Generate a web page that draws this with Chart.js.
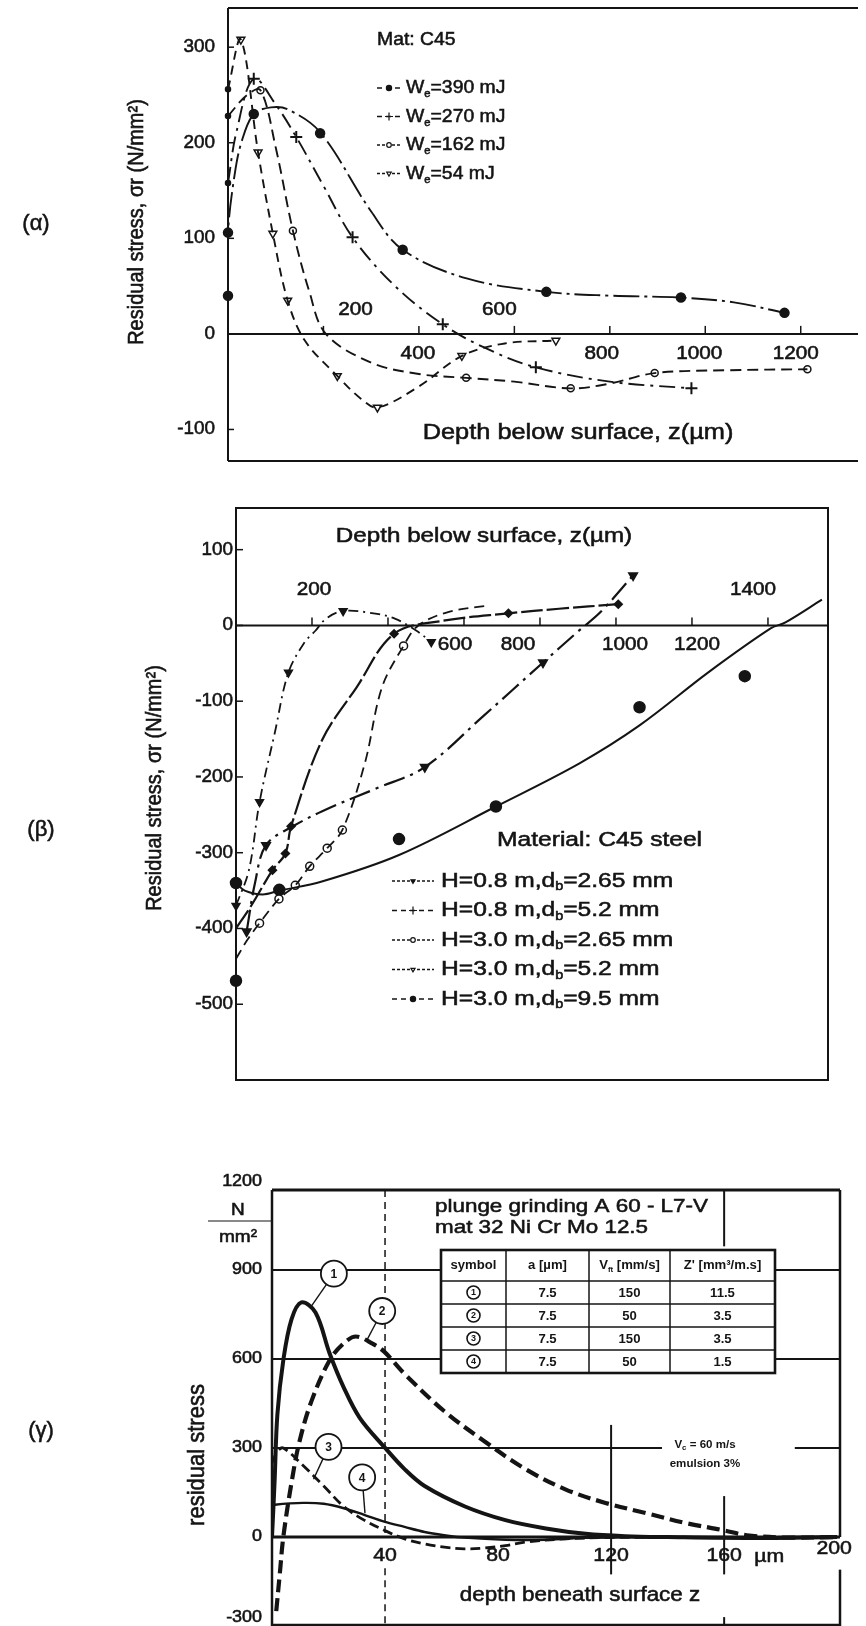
<!DOCTYPE html>
<html>
<head>
<meta charset="utf-8">
<title>Residual stress profiles</title>
<script src="https://cdn.jsdelivr.net/npm/chart.js@4.4.1/dist/chart.umd.min.js"></script>
<style>
  body { margin: 0; background: #fff; }
  #page { position: relative; width: 866px; height: 1626px; overflow: hidden; background: #fff; }
  canvas { position: absolute; left: 0; }
</style>
</head>
<body>
<div id="page">
  <canvas id="chartA" width="866" height="476" style="top:0px"></canvas>
  <canvas id="chartB" width="866" height="610" style="top:478px"></canvas>
  <canvas id="chartC" width="866" height="486" style="top:1140px"></canvas>
</div>
<script>
const ink = '#141414';
const FONT = '"Liberation Sans", Arial, Helvetica, sans-serif';
const SX = 1.12; // lettering in the scanned figure is a bit wide

/*************(α) Mat C45, impact energy We*************/
const aEnergy = ['390', '270', '162', '54'];
const aTicksZ = [200, 400, 600, 800, 1000, 1200];
const aTicksS = [300, 200, 100, 0, -100];
const aLabelsBelow = [400, 800, 1000, 1200];
const aLabelsAbove = [200, 600];

const aZ390 = [0, 0, 14, 29, 54, 90, 125, 193, 300, 366, 500, 667, 800, 949, 1060, 1166];
const aS390 = [40, 106, 167, 202, 230, 237, 235, 211, 128, 88, 58, 44, 40, 38, 33, 22];
const aZ390m = [0, 0, 54, 193, 366, 667, 949, 1166];
const aS390m = [40, 106, 230, 210, 88, 44, 38, 22];

const aZ270 = [0, 18, 54, 100, 143, 200, 261, 350, 450, 540, 645, 800, 971];
const aS270 = [158, 212, 267, 240, 206, 155, 101, 50, 10, -15, -35, -50, -57];
const aZ270m = [54, 143, 261, 450, 645, 971];
const aS270m = [267, 206, 101, 10, -35, -57];

const aZ162 = [0, 40, 68, 100, 136, 170, 205, 300, 400, 499, 600, 718, 800, 894, 1050, 1214];
const aS162 = [228, 250, 255, 195, 108, 45, 0, -30, -42, -46, -50, -57, -52, -41, -38, -37];
const aZ162m = [68, 136, 499, 718, 894, 1214];
const aS162m = [255, 108, -46, -57, -41, -37];

const aZ54 = [0, 27, 63, 94, 125, 161, 229, 279, 313, 400, 490, 580, 687];
const aS54 = [256, 308, 190, 105, 35, -7, -44, -68, -77, -55, -23, -10, -7];
const aZ54m = [27, 63, 94, 125, 229, 313, 490, 687];
const aS54m = [308, 190, 105, 35, -44, -77, -23, -7];

const aZsurf = [0, 0, 0];
const aSsurf = [158, 228, 256];

/*************(β) C45 steel, drop height H and ball diameter db*************/
const bHeight = ['0.8', '0.8', '3.0', '3.0', '3.0'];
const bBall = ['2.65', '5.2', '2.65', '5.2', '9.5'];
const bTicksZ = [200, 400, 600, 800, 1000, 1200, 1400];
const bTicksS = [100, 0, -100, -200, -300, -400, -500];
const bLabelsBelow = [600, 800, 1000, 1200];
const bLabelsAbove = [200, 1400];

const bZ1 = [0, 34, 62, 102, 138, 181, 209, 237, 282, 362, 418, 475, 514];
const bS1 = [-370, -323, -233, -142, -62, -22, -7, 9, 19, 16, 9, -7, -22];
const bZ1m = [0, 62, 138, 282, 514];
const bS1m = [-370, -233, -62, 19, -22];

const bZ2 = [0, 40, 96, 130, 145, 226, 317, 416, 543, 717, 850, 1006];
const bS2 = [-400, -370, -323, -301, -265, -152, -82, -11, 6, 16, 22, 28];
const bZ2m = [96, 130, 145, 416, 717, 1006];
const bS2m = [-323, -301, -265, -11, 16, 28];

const bZ3 = [0, 30, 62, 113, 156, 194, 240, 280, 339, 384, 441, 480, 560, 660];
const bS3 = [-440, -415, -393, -361, -343, -318, -294, -270, -182, -82, -27, 0, 18, 26];
const bZ3m = [62, 113, 156, 194, 240, 280, 441];
const bS3m = [-393, -361, -343, -318, -294, -270, -27];

const bZ4 = [28, 50, 79, 150, 250, 370, 497, 650, 808, 900, 960, 1045];
const bS4 = [-404, -340, -290, -265, -240, -215, -187, -120, -49, -8, 18, 66];
const bZ4m = [28, 79, 497, 808, 1045];
const bS4m = [-404, -290, -187, -49, 66];

const bZ5 = [0, 23, 70, 114, 226, 429, 684, 904, 1062, 1243, 1407, 1446, 1542];
const bS5 = [-340, -350, -355, -350, -338, -303, -239, -182, -132, -62, -4, 4, 34];
const bZ5m = [0, 0, 114, 429, 684, 1062, 1339];
const bS5m = [-340, -469, -349, -282, -239, -108, -67];

/*************(γ) plunge grinding, 32 Ni Cr Mo 12.5*************/
const cTicksS = [1200, 900, 600, 300, 0, -300];
const cTicksZ = [40, 80, 120, 160];
const cSymbol = ['1', '2', '3', '4'];
const cDepth = ['7.5', '7.5', '7.5', '7.5'];
const cFeed = ['150', '50', '150', '50'];
const cRemoval = ['11.5', '3.5', '3.5', '1.5'];

const cZ1 = [0, 0.9, 1.9, 4, 6.9, 10.4, 15.4, 20.4, 25.4, 31.1, 39.7, 46.9, 54, 68.3, 82.6, 96.9, 111, 125, 140, 170, 200];
const cS1 = [0, 183, 413, 596, 734, 791, 757, 619, 504, 401, 304, 229, 172, 103, 57, 29, 11, 3, 0, -3, 0];

const cZ2 = [1.5, 2.8, 4, 6.9, 9.7, 14, 20.4, 25.4, 29.7, 35.4, 39.7, 46.9, 61, 75.4, 89.7, 104, 118, 132.6, 146.9, 159.7, 168, 182.6, 200];
const cS2 = [-250, -120, 0, 183, 321, 459, 596, 653, 676, 653, 625, 550, 424, 321, 229, 160, 115, 80, 46, 23, 6, -2, 0];

const cZ3 = [0, 2, 4, 11, 18.3, 25.4, 32.6, 39.7, 46.9, 54, 61, 68, 75.4, 82.6, 89.7, 104, 118, 140];
const cS3 = [250, 290, 300, 241, 172, 103, 57, 23, -6, -23, -34, -40, -37, -29, -17, -6, -2, 0];

const cZ4 = [0, 1, 11, 18.3, 25.4, 32.6, 39.7, 46.9, 54, 61, 68, 82.6, 96.9, 111, 125];
const cS4 = [105, 109, 115, 112, 97, 75, 52, 34, 17, 6, -2, -9, -9, -3, 0];

/*************helpers*************/
function seg(ctx, x1, y1, x2, y2) {
    ctx.beginPath();
    ctx.moveTo(x1, y1);
    ctx.lineTo(x2, y2);
    ctx.stroke();
}

function setFont(ctx, size, bold) {
    ctx.font = (bold ? 'bold ' : '') + size + 'px ' + FONT;
}

// scanned print looks heavier than a clean regular face, so regular text gets a hairline stroke
function label(ctx, s, x, y, size, align, bold, sx) {
    ctx.save();
    setFont(ctx, size, bold);
    ctx.fillStyle = ink;
    ctx.strokeStyle = ink;
    ctx.lineWidth = 0.55;
    ctx.textAlign = align || 'left';
    ctx.textBaseline = 'middle';
    ctx.translate(x, y);
    ctx.scale(sx || SX, 1);
    ctx.fillText(s, 0, 0);
    if (!bold) ctx.strokeText(s, 0, 0);
    ctx.restore();
}

function textWidth(ctx, s, size, bold, sx) {
    ctx.save();
    setFont(ctx, size, bold);
    const w = ctx.measureText(s).width;
    ctx.restore();
    return w * (sx || SX);
}

// pieces: [text, size, yShift]
function runs(ctx, pieces, x, y, bold, sx) {
    let cx = x;
    pieces.forEach(function (p) {
        label(ctx, p[0], cx, y + (p[2] || 0), p[1], 'left', bold, sx);
        cx += textWidth(ctx, p[0], p[1], bold, sx);
    });
    return cx;
}

function runsWidth(ctx, pieces, bold, sx) {
    return pieces.reduce(function (w, p) { return w + textWidth(ctx, p[0], p[1], bold, sx); }, 0);
}

function vlabel(ctx, s, x, y, size) {
    ctx.save();
    setFont(ctx, size);
    ctx.fillStyle = ink;
    ctx.strokeStyle = ink;
    ctx.lineWidth = 0.55;
    ctx.textAlign = 'center';
    ctx.textBaseline = 'middle';
    ctx.translate(x, y);
    ctx.rotate(-Math.PI / 2);
    ctx.scale(1, SX);
    ctx.fillText(s, 0, 0);
    ctx.strokeText(s, 0, 0);
    ctx.restore();
}

function sample(ctx, x, y, w, dash, style, r, filled, rot) {
    ctx.save();
    ctx.strokeStyle = ink;
    ctx.lineWidth = 1.6;
    ctx.setLineDash(dash);
    seg(ctx, x, y, x + w, y);
    ctx.setLineDash([]);
    ctx.fillStyle = filled ? ink : '#fff';
    ctx.lineWidth = 1.2;
    Chart.helpers.drawPoint(ctx, { pointStyle: style, radius: r, rotation: rot || 0, borderWidth: 1.2 }, x + w / 2, y);
    ctx.restore();
}

function pts(xs, ys) {
    return xs.map(function (x, i) { return { x: x, y: ys[i] }; });
}

function curve(xs, ys, dash, width) {
    return {
        data: pts(xs, ys), showLine: true, pointRadius: 0,
        borderColor: ink, borderWidth: width || 1.9, borderDash: dash || [],
        tension: 0.35, fill: false
    };
}

function marks(xs, ys, style, radius, filled, rotation, bw) {
    return {
        data: pts(xs, ys), showLine: false, pointStyle: style, pointRadius: radius,
        pointRotation: rotation || 0, pointBackgroundColor: filled ? ink : '#fff',
        pointBorderColor: ink, pointBorderWidth: bw || 1.5, clip: false
    };
}

function baseOptions(pad, xr, yr) {
    return {
        responsive: false, animation: false, events: [],
        layout: { padding: pad },
        plugins: { legend: { display: false }, tooltip: { enabled: false } },
        scales: {
            x: { type: 'linear', display: false, min: xr[0], max: xr[1] },
            y: { type: 'linear', display: false, min: yr[0], max: yr[1] }
        }
    };
}

/*************(α)*************/
const aLegend = [
    { dash: [5, 4], style: 'circle', r: 2.6, filled: true },
    { dash: [5, 4], style: 'cross', r: 4, filled: false },
    { dash: [3, 2], style: 'circle', r: 2.3, filled: false },
    { dash: [3, 2], style: 'triangle', r: 2.6, filled: false, rot: 180 }
];

const alphaDeco = {
    id: 'alphaDeco',
    beforeDatasetsDraw(chart) {
        const ctx = chart.ctx, A = chart.chartArea, x = chart.scales.x, y = chart.scales.y;
        ctx.save();
        ctx.strokeStyle = ink;
        ctx.lineWidth = 2;
        seg(ctx, A.left, A.top, A.right, A.top);
        seg(ctx, A.left, A.top, A.left, A.bottom);
        seg(ctx, A.left, A.bottom, A.right, A.bottom);
        const y0 = y.getPixelForValue(0);
        seg(ctx, A.left, y0, A.right, y0);
        ctx.lineWidth = 1.5;
        aTicksZ.forEach(function (v) { const px = x.getPixelForValue(v); seg(ctx, px, y0, px, y0 - 8); });
        aTicksS.forEach(function (v) { const py = y.getPixelForValue(v); seg(ctx, A.left, py, A.left + 6, py); });
        ctx.restore();
    },
    afterDatasetsDraw(chart) {
        const ctx = chart.ctx, A = chart.chartArea, x = chart.scales.x, y = chart.scales.y;
        const y0 = y.getPixelForValue(0);
        aTicksS.forEach(function (v) { label(ctx, String(v), A.left - 13, y.getPixelForValue(v), 18, 'right', false, 1.05); });
        const below = [-1, -8, -6, -5], above = [32, -15];
        aLabelsBelow.forEach(function (v, i) { label(ctx, String(v), x.getPixelForValue(v) + below[i], y0 + 20, 18.5, 'center'); });
        aLabelsAbove.forEach(function (v, i) { label(ctx, String(v), x.getPixelForValue(v) + above[i], y0 - 24, 18.5, 'center'); });

        label(ctx, 'Depth below surface, z(\u00b5m)', 578, 433, 21.5, 'center', false, 1.18);
        vlabel(ctx, 'Residual stress, \u03c3r (N/mm\u00b2)', 137, 222, 20);
        label(ctx, '(\u03b1)', 36, 224, 22, 'center', false, 1);

        label(ctx, 'Mat: C45', 377, 40, 19, 'left', false, 1.02);
        aEnergy.forEach(function (e, i) {
            const yy = 88 + i * 28.5, st = aLegend[i];
            sample(ctx, 377, yy, 24, st.dash, st.style, st.r, st.filled, st.rot);
            runs(ctx, [['W', 19], ['e', 11, 6], ['=' + e + ' mJ', 19]], 406, yy, false, 1.02);
        });
    }
};

new Chart(document.getElementById('chartA'), {
    type: 'scatter',
    data: {
        datasets: [
            curve(aZ390, aS390, [26, 5, 3, 5]),
            curve(aZ270, aS270, [16, 6, 3, 6]),
            curve(aZ162, aS162, [11, 6]),
            curve(aZ54, aS54, [9, 6]),
            marks(aZ390m, aS390m, 'circle', 4.5, true),
            marks(aZ270m, aS270m, 'cross', 6, false, 0, 2),
            marks(aZ162m, aS162m, 'circle', 3.5, false),
            marks(aZ54m, aS54m, 'triangle', 4.5, false, 180),
            marks(aZsurf, aSsurf, 'circle', 2.5, true)
        ]
    },
    options: baseOptions({ left: 228, top: 8, right: 0, bottom: 15 }, [0, 1320], [-133, 341]),
    plugins: [alphaDeco]
});

/*************(β)*************/
const bLegend = [
    { dash: [3, 2], style: 'triangle', r: 2.4, filled: true, rot: 180 },
    { dash: [5, 4], style: 'cross', r: 4, filled: false },
    { dash: [3, 2], style: 'circle', r: 2.3, filled: false },
    { dash: [3, 2], style: 'triangle', r: 2.4, filled: false, rot: 180 },
    { dash: [5, 4], style: 'circle', r: 2.6, filled: true }
];

const betaDeco = {
    id: 'betaDeco',
    beforeDatasetsDraw(chart) {
        const ctx = chart.ctx, A = chart.chartArea, x = chart.scales.x, y = chart.scales.y;
        ctx.save();
        ctx.strokeStyle = ink;
        ctx.lineWidth = 2;
        ctx.strokeRect(A.left, A.top, A.right - A.left, A.bottom - A.top);
        const y0 = y.getPixelForValue(0);
        seg(ctx, A.left, y0, A.right, y0);
        ctx.lineWidth = 1.5;
        bTicksZ.forEach(function (v) { const px = x.getPixelForValue(v); seg(ctx, px, y0, px, y0 - 8); });
        bTicksS.forEach(function (v) { const py = y.getPixelForValue(v); seg(ctx, A.left, py, A.left + 7, py); });
        ctx.restore();
    },
    afterDatasetsDraw(chart) {
        const ctx = chart.ctx, A = chart.chartArea, x = chart.scales.x, y = chart.scales.y;
        const y0 = y.getPixelForValue(0);
        bTicksS.forEach(function (v) { label(ctx, String(v), A.left - 3, y.getPixelForValue(v), 18, 'right', false, 1.05); });
        const below = [-9, -22, 9, 5], above = [2, -15];
        bLabelsBelow.forEach(function (v, i) { label(ctx, String(v), x.getPixelForValue(v) + below[i], y0 + 19, 18.5, 'center'); });
        bLabelsAbove.forEach(function (v, i) { label(ctx, String(v), x.getPixelForValue(v) + above[i], y0 - 36, 18.5, 'center'); });

        label(ctx, 'Depth below surface, z(\u00b5m)', 484, 58, 20.5, 'center', false, 1.18);
        vlabel(ctx, 'Residual stress, \u03c3r (N/mm\u00b2)', 155, 310, 20);
        label(ctx, '(\u03b2)', 41, 352, 22, 'center', false, 1);

        label(ctx, 'Material: C45 steel', 497, 362, 20.5, 'left', false, 1.2);
        bHeight.forEach(function (h, i) {
            const yy = 403 + i * 29.5, st = bLegend[i];
            sample(ctx, 392, yy, 42, st.dash, st.style, st.r, st.filled, st.rot);
            runs(ctx, [['H=' + h + ' m,d', 20.5], ['b', 12, 6], ['=' + bBall[i] + ' mm', 20.5]], 441, yy, false, 1.2);
        });
    }
};

new Chart(document.getElementById('chartB'), {
    type: 'scatter',
    data: {
        datasets: [
            curve(bZ1, bS1, [10, 5, 2, 5], 1.8),
            curve(bZ2, bS2, [22, 4], 2.2),
            curve(bZ3, bS3, [10, 6], 1.8),
            curve(bZ4, bS4, [22, 6, 3, 6], 2.2),
            curve(bZ5, bS5, [], 2),
            marks(bZ1m, bS1m, 'triangle', 4.5, true, 180),
            marks(bZ2m, bS2m, 'rectRot', 4, true),
            marks(bZ3m, bS3m, 'circle', 4, false),
            marks(bZ4m, bS4m, 'triangle', 5, true, 180),
            marks(bZ5m, bS5m, 'circle', 5.5, true)
        ]
    },
    options: baseOptions({ left: 236, top: 30, right: 38, bottom: 8 }, [0, 1558], [-600, 155]),
    plugins: [betaDeco]
});

/*************(γ)*************/
const gammaDeco = {
    id: 'gammaDeco',
    beforeDatasetsDraw(chart) {
        const ctx = chart.ctx, A = chart.chartArea, x = chart.scales.x, y = chart.scales.y;
        const px = function (v) { return x.getPixelForValue(v); };
        const py = function (v) { return y.getPixelForValue(v); };
        ctx.save();
        ctx.strokeStyle = ink;
        // grid
        ctx.lineWidth = 2;
        seg(ctx, A.left, py(900), A.right, py(900));
        seg(ctx, A.left, py(600), A.right, py(600));
        seg(ctx, A.left, py(300), px(138), py(300));
        seg(ctx, px(185), py(300), A.right, py(300));
        seg(ctx, px(160), A.top, px(160), py(980));
        seg(ctx, px(160), py(138), px(160), py(-126));
        seg(ctx, px(160), py(-270), px(160), A.bottom);
        seg(ctx, px(120), py(378), px(120), py(-126));
        ctx.lineWidth = 1.5;
        ctx.setLineDash([7, 5]);
        seg(ctx, px(40), A.top, px(40), py(0));
        seg(ctx, px(40), py(-105), px(40), A.bottom);
        ctx.setLineDash([]);
        // frame and zero line
        ctx.lineWidth = 3;
        seg(ctx, A.left, py(0), A.right, py(0));
        seg(ctx, A.left, A.top, A.right, A.top);
        ctx.lineWidth = 2.5;
        seg(ctx, A.left, A.top, A.left, A.bottom);
        seg(ctx, A.right, A.top, A.right, py(0));
        seg(ctx, A.right, py(-110), A.right, A.bottom);
        seg(ctx, A.left, A.bottom - 1, A.right, A.bottom - 1);
        ctx.restore();
    },
    afterDatasetsDraw(chart) {
        const ctx = chart.ctx, A = chart.chartArea, x = chart.scales.x, y = chart.scales.y;
        const px = function (v) { return x.getPixelForValue(v); };
        const py = function (v) { return y.getPixelForValue(v); };

        // axis labels
        cTicksS.forEach(function (v) {
            const yy = Math.min(py(v), A.bottom - 8);
            label(ctx, String(v), 262, yy, 16, 'right');
        });
        label(ctx, 'N', 238, 70, 17, 'center');
        ctx.save();
        ctx.strokeStyle = ink;
        ctx.lineWidth = 1.2;
        seg(ctx, 208, 81, A.left, 81);
        ctx.restore();
        label(ctx, 'mm\u00b2', 238, 97, 17, 'center');
        cTicksZ.forEach(function (v) { label(ctx, String(v), px(v), 416, 19, 'center'); });
        label(ctx, '\u00b5m', px(176), 417, 19, 'center');
        label(ctx, '200', px(200) - 3, 409, 19, 'center');
        label(ctx, 'depth beneath surface z', 580, 455, 20, 'center');
        vlabel(ctx, 'residual stress', 197, 315, 22);
        label(ctx, '(\u03b3)', 41, 291, 22, 'center', false, 1);

        // title
        label(ctx, 'plunge grinding A 60 - L7-V', 435, 67, 19, 'left', false, 1.18);
        label(ctx, 'mat 32 Ni Cr Mo 12.5', 435, 88, 19, 'left', false, 1.18);

        // parameter table
        const tx = [441, 506, 589, 670, 775], ty = [110, 141, 164, 187, 210, 233];
        ctx.save();
        ctx.fillStyle = '#fff';
        ctx.fillRect(tx[0], ty[0], tx[4] - tx[0], ty[5] - ty[0]);
        ctx.strokeStyle = ink;
        ctx.lineWidth = 1.5;
        for (let r = 1; r < ty.length - 1; r++) seg(ctx, tx[0], ty[r], tx[4], ty[r]);
        for (let c = 1; c < tx.length - 1; c++) seg(ctx, tx[c], ty[0], tx[c], ty[5]);
        ctx.lineWidth = 2.6;
        ctx.strokeRect(tx[0], ty[0], tx[4] - tx[0], ty[5] - ty[0]);
        ctx.restore();
        const cx = function (c) { return (tx[c] + tx[c + 1]) / 2; };
        const hy = (ty[0] + ty[1]) / 2;
        label(ctx, 'symbol', cx(0), hy, 12.5, 'center', true, 1.05);
        label(ctx, 'a [\u00b5m]', cx(1), hy, 12.5, 'center', true, 1.05);
        const vPieces = [['V', 12.5], ['ft', 7.5, 4], [' [mm/s]', 12.5]];
        runs(ctx, vPieces, cx(2) - runsWidth(ctx, vPieces, true, 1.05) / 2, hy, true, 1.05);
        label(ctx, "Z' [mm\u00b3/m.s]", cx(3), hy, 12.5, 'center', true, 1.05);
        cSymbol.forEach(function (s, i) {
            const yy = (ty[i + 1] + ty[i + 2]) / 2;
            ctx.save();
            ctx.strokeStyle = ink;
            ctx.lineWidth = 1.6;
            ctx.beginPath();
            ctx.arc(cx(0), yy, 6.5, 0, Math.PI * 2);
            ctx.stroke();
            ctx.restore();
            label(ctx, s, cx(0), yy + 0.5, 9, 'center', true, 1);
            label(ctx, cDepth[i], cx(1), yy + 1, 12.5, 'center', true, 1.05);
            label(ctx, cFeed[i], cx(2), yy + 1, 12.5, 'center', true, 1.05);
            label(ctx, cRemoval[i], cx(3), yy + 1, 12.5, 'center', true, 1.05);
        });

        // cutting conditions note
        const vc = [['V', 11], ['c', 7.5, 3], [' = 60 m/s', 11]];
        runs(ctx, vc, 705 - runsWidth(ctx, vc, true, 1.05) / 2, 305, true, 1.05);
        label(ctx, 'emulsion 3%', 705, 324, 11, 'center', true, 1.05);

        // numbered call-outs with leader lines (data units)
        const callZ = [21.9, 39, 20, 31.9], callS = [888, 762, 304, 201];
        const tipZ = [14, 33.3, 14.7, 32.9], tipS = [779, 659, 195, 80];
        ctx.save();
        ctx.strokeStyle = ink;
        cSymbol.forEach(function (s, i) {
            const ox = px(callZ[i]), oy = py(callS[i]);
            const tx2 = px(tipZ[i]), ty2 = py(tipS[i]);
            const ang = Math.atan2(ty2 - oy, tx2 - ox);
            ctx.lineWidth = 1.4;
            seg(ctx, ox + 13 * Math.cos(ang), oy + 13 * Math.sin(ang), tx2, ty2);
            ctx.fillStyle = '#fff';
            ctx.lineWidth = 1.8;
            ctx.beginPath();
            ctx.arc(ox, oy, 13, 0, Math.PI * 2);
            ctx.fill();
            ctx.stroke();
            label(ctx, s, ox, oy + 1, 12, 'center', true, 1);
        });
        ctx.restore();
    }
};

new Chart(document.getElementById('chartC'), {
    type: 'scatter',
    data: {
        datasets: [
            curve(cZ1, cS1, [], 4),
            curve(cZ2, cS2, [13, 6], 4.2),
            curve(cZ3, cS3, [10, 5], 2.8),
            curve(cZ4, cS4, [], 2.4)
        ]
    },
    options: baseOptions({ left: 272, top: 50, right: 26, bottom: 0 }, [0, 201], [-300, 1170]),
    plugins: [gammaDeco]
});
</script>
</body>
</html>
